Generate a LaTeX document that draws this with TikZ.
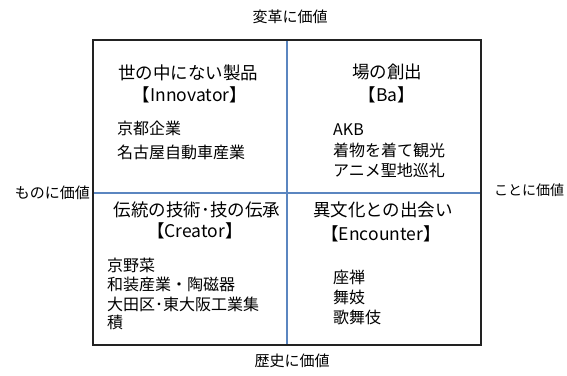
\documentclass[tikz,border=0pt]{standalone}
\usepackage{fontspec}
\setmainfont{Noto Sans CJK JP}
\definecolor{divblue}{HTML}{5B86C0}
\definecolor{frame}{HTML}{222222}
\begin{document}
\begin{tikzpicture}[x=1pt,y=-1pt,
  base/.style={inner sep=0pt, text height=0.88em, text depth=0.12em, text=black},
  axislbl/.style={base, font=\fontsize{15}{18}\selectfont},
  ttl/.style={base, font=\fontsize{17.5}{20}\selectfont},
  body/.style={base, font=\fontsize{16}{18}\selectfont, anchor=west}]
\useasboundingbox (0,0) rectangle (567,375);
\fill[white] (0,0) rectangle (567,375);
% dividers
\coordinate (vt) at (287,40); \coordinate (vb) at (287,345);
\coordinate (hl) at (93,193); \coordinate (hr) at (481,193);
\draw[divblue, line width=1.5pt] (vt) -- (vb);
\draw[divblue, line width=1.5pt] (hl) -- (hr);
% frame
\draw[frame, line width=1.6pt] (93,40) rectangle (481,345);
% axis labels
\node[axislbl] (top) at (290,19) {変革に価値};
\node[axislbl, anchor=east] (left) at (90,195) {ものに価値};
\node[axislbl, anchor=west, font=\fontsize{14}{16}\selectfont] (right) at (494,192) {ことに価値};
\node[axislbl] (bottom) at (292,363) {歴史に価値};
% top-left
\node[ttl] (tlt) at (188,76) {世の中にない製品};
\node[ttl] (tls) at (190,98) {【Innovator】};
\node[body] (tl1) at (117,131) {京都企業};
\node[body] (tl2) at (117,155) {名古屋自動車産業};
% top-right
\node[ttl] (trt) at (387,75) {場の創出};
\node[ttl] (trs) at (387,98) {【Ba】};
\node[body] (tr1) at (333,132) {AKB};
\node[body] (tr2) at (333,153) {着物を着て観光};
\node[body] (tr3) at (333,173) {アニメ聖地巡礼};
% bottom-left
\node[ttl] (blt) at (197,213) {伝統の技術･技の伝承};
\node[ttl] (bls) at (195,234) {【Creator】};
\node[body] (bl1) at (107,268) {京野菜};
\node[body] (bl2) at (107,287) {和装産業・陶磁器};
\node[body] (bl3) at (107,307) {大田区･東大阪工業集};
\node[body] (bl4) at (107,325) {積};
% bottom-right
\node[ttl] (brt) at (383,213) {異文化との出会い};
\node[ttl] (brs) at (381,237) {【Encounter】};
\node[body] (br1) at (333,280) {座禅};
\node[body] (br2) at (333,300) {舞妓};
\node[body] (br3) at (333,320) {歌舞伎};
\end{tikzpicture}
\end{document}
